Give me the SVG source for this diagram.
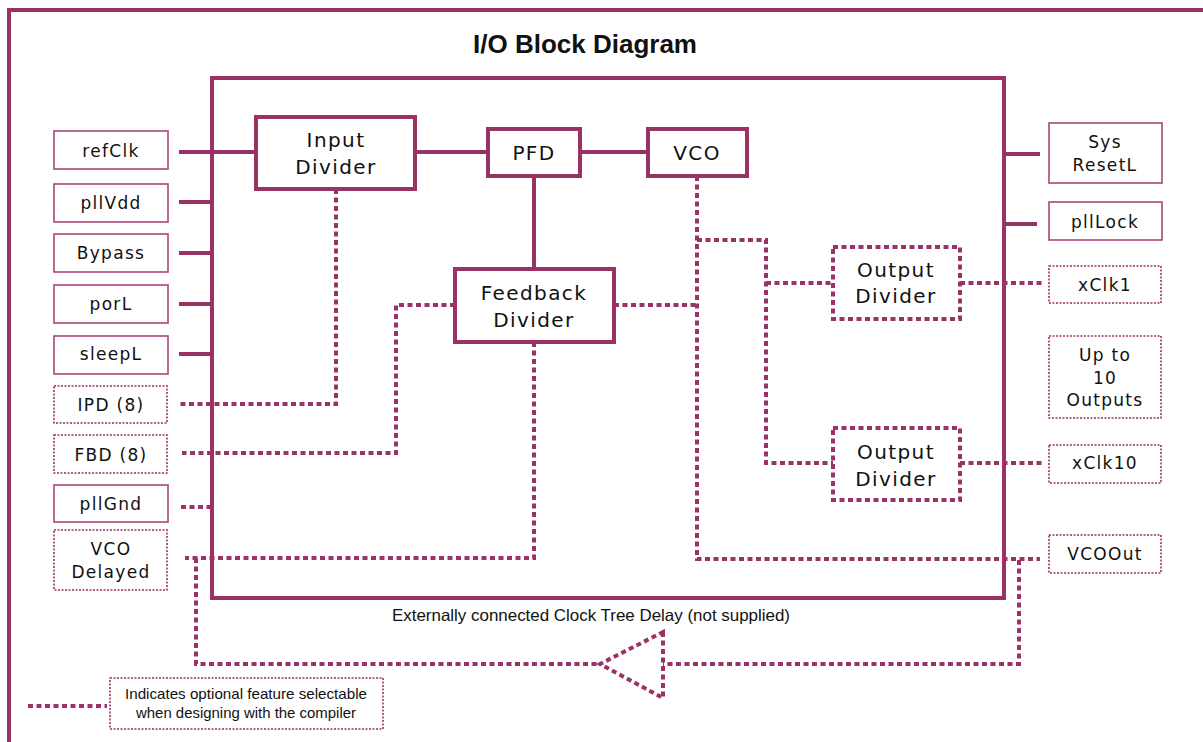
<svg xmlns="http://www.w3.org/2000/svg" width="1203" height="742" viewBox="0 0 1203 742">
<style>
.frame{fill:none;stroke:#993366;stroke-width:4}
.blk{fill:#fff;stroke:#993366;stroke-width:4}
.oblk{fill:#fff;stroke:#993366;stroke-width:4;stroke-dasharray:5 3.5}
.pin{fill:#fff;stroke:#a8467a;stroke-width:1.6}
.opin{fill:#fff;stroke:#993366;stroke-width:1.6;stroke-dasharray:2 1.5}
.sol{fill:none;stroke:#993366;stroke-width:4}
.dot{fill:none;stroke:#993366;stroke-width:4;stroke-dasharray:5 3.5}
.nt{font-family:"DejaVu Sans",Verdana,sans-serif;font-size:20px;letter-spacing:1.4px;fill:#111;text-anchor:middle}
.pt{font-family:"DejaVu Sans",Verdana,sans-serif;font-size:17px;letter-spacing:1.3px;fill:#111;text-anchor:middle}
.at{font-family:"Liberation Sans",Arial,sans-serif;fill:#111;text-anchor:middle}
</style>
<rect width="1203" height="742" fill="#fff"/>
<path class="frame" d="M9,742 V10 H1203"/>
<text class="at" x="585" y="53" font-size="26" font-weight="bold">I/O Block Diagram</text>
<rect id="mainbox" class="frame" x="212" y="78" width="792" height="520"/>

<g id="connectors">
  <path class="sol" d="M179,152 H256"/>
  <path class="sol" d="M415,152 H488"/>
  <path class="sol" d="M580,152 H648"/>
  <path class="sol" d="M534,176 V269"/>
  <path class="sol" d="M179,202 H212"/>
  <path class="sol" d="M179,253 H212"/>
  <path class="sol" d="M179,304 H212"/>
  <path class="sol" d="M179,354 H212"/>
  <path class="sol" d="M1004,154 H1040"/>
  <path class="sol" d="M1004,224 H1037"/>
  <path class="dot" d="M336,189 V404 H179"/>
  <path class="dot" d="M455,305 H396 V453 H182"/>
  <path class="dot" d="M614,305 H697"/>
  <path class="dot" d="M181,507 H212"/>
  <path class="dot" d="M534,342 V558 H185"/>
  <path class="dot" d="M196,558 V664 H600"/>
  <path class="dot" d="M697,176 V559 H1040"/>
  <path class="dot" d="M697,240 H766 V463 H833"/>
  <path class="dot" d="M766,283 H833"/>
  <path class="dot" d="M960,283 H1042"/>
  <path class="dot" d="M960,463 H1042"/>
  <path class="dot" d="M1019,560 V664 H663"/>
  <path class="dot" d="M663,632 V698 L600,664 Z"/>
  <path class="dot" d="M28,706 H107"/>
</g>

<g id="input-divider"><rect class="blk" x="256" y="117" width="159" height="72"/><text class="nt" x="336" y="147">Input</text><text class="nt" x="336" y="174">Divider</text></g>
<g id="pfd"><rect class="blk" x="488" y="129" width="92" height="47"/><text class="nt" x="534" y="160">PFD</text></g>
<g id="vco"><rect class="blk" x="648" y="129" width="99" height="47"/><text class="nt" x="697" y="160">VCO</text></g>
<g id="feedback-divider"><rect class="blk" x="455" y="269" width="159" height="73"/><text class="nt" x="534" y="300">Feedback</text><text class="nt" x="534" y="327">Divider</text></g>
<g id="output-divider-1"><rect class="oblk" x="833" y="247" width="127" height="72"/><text class="nt" x="896" y="277">Output</text><text class="nt" x="896" y="303">Divider</text></g>
<g id="output-divider-2"><rect class="oblk" x="833" y="428" width="127" height="72"/><text class="nt" x="896" y="459">Output</text><text class="nt" x="896" y="486">Divider</text></g>

<g id="refClk"><rect class="pin" x="54" y="131" width="114" height="38"/><text class="pt" x="111" y="157">refClk</text></g>
<g id="pllVdd"><rect class="pin" x="54" y="184" width="114" height="38"/><text class="pt" x="111" y="209">pllVdd</text></g>
<g id="Bypass"><rect class="pin" x="54" y="234" width="114" height="38"/><text class="pt" x="111" y="259">Bypass</text></g>
<g id="porL"><rect class="pin" x="54" y="285" width="114" height="38"/><text class="pt" x="111" y="310">porL</text></g>
<g id="sleepL"><rect class="pin" x="54" y="336" width="114" height="38"/><text class="pt" x="111" y="360">sleepL</text></g>
<g id="IPD"><rect class="opin" x="54" y="386" width="113" height="37"/><text class="pt" x="111" y="411">IPD (8)</text></g>
<g id="FBD"><rect class="opin" x="54" y="435" width="113" height="38"/><text class="pt" x="111" y="461">FBD (8)</text></g>
<g id="pllGnd"><rect class="pin" x="54" y="485" width="114" height="37"/><text class="pt" x="111" y="510">pllGnd</text></g>
<g id="VCODelayed"><rect class="opin" x="54" y="530" width="113" height="60"/><text class="pt" x="111" y="555">VCO</text><text class="pt" x="111" y="578">Delayed</text></g>

<g id="SysResetL"><rect class="pin" x="1049" y="123" width="113" height="60"/><text class="pt" x="1105" y="148">Sys</text><text class="pt" x="1105" y="171">ResetL</text></g>
<g id="pllLock"><rect class="pin" x="1049" y="202" width="113" height="38"/><text class="pt" x="1105" y="228">pllLock</text></g>
<g id="xClk1"><rect class="opin" x="1049" y="266" width="112" height="37"/><text class="pt" x="1105" y="291">xClk1</text></g>
<g id="UpTo10"><rect class="opin" x="1049" y="336" width="112" height="82"/><text class="pt" x="1105" y="361">Up to</text><text class="pt" x="1105" y="384">10</text><text class="pt" x="1105" y="406">Outputs</text></g>
<g id="xClk10"><rect class="opin" x="1049" y="445" width="112" height="38"/><text class="pt" x="1105" y="469">xClk10</text></g>
<g id="VCOOut"><rect class="opin" x="1049" y="535" width="112" height="38"/><text class="pt" x="1105" y="560">VCOOut</text></g>

<text class="at" x="591" y="621" font-size="16.5" textLength="398" lengthAdjust="spacingAndGlyphs">Externally connected Clock Tree Delay (not supplied)</text>
<g id="legend"><rect class="opin" x="110" y="678" width="273" height="51"/><text class="at" x="246" y="699" font-size="15" textLength="242" lengthAdjust="spacingAndGlyphs">Indicates optional feature selectable</text><text class="at" x="246" y="718" font-size="15" textLength="220" lengthAdjust="spacingAndGlyphs">when designing with the compiler</text></g>
</svg>
